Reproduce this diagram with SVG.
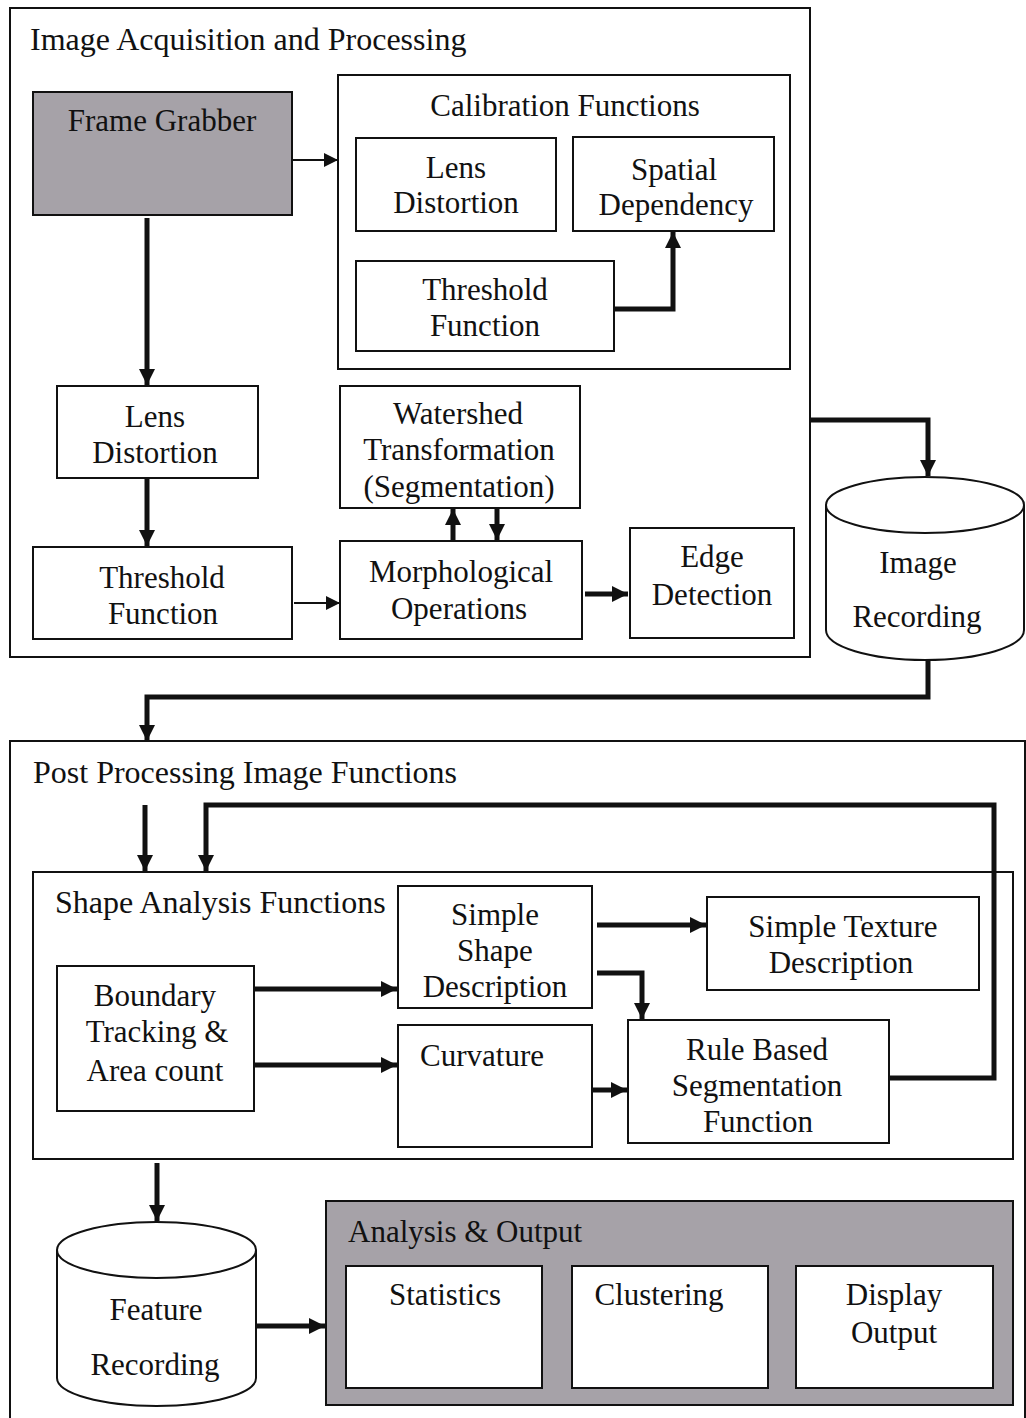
<svg xmlns="http://www.w3.org/2000/svg" width="1026" height="1418" viewBox="0 0 1026 1418">
  <style>
    .frame { fill: none; stroke: #111; stroke-width: 2; }
    .box { fill: #fff; stroke: #111; stroke-width: 2; }
    .grey { fill: #a6a2a8; stroke: #111; stroke-width: 2; }
    .lbl { font-family: "Liberation Serif", "Times New Roman", serif; font-size: 31px; fill: #111; }
    .ttl { font-size: 32px; }
    .mid { text-anchor: middle; }
    .thin { fill: none; stroke: #111; stroke-width: 2; }
    .thick { fill: none; stroke: #111; stroke-width: 5; }
  </style>
  <defs>
    <marker id="headS" markerUnits="userSpaceOnUse" markerWidth="14" markerHeight="14" refX="14" refY="7" orient="auto">
      <path d="M0,0 L14,7 L0,14 Z" fill="#111"/>
    </marker>
    <marker id="headL" markerUnits="userSpaceOnUse" markerWidth="18" markerHeight="18" refX="16" refY="9" orient="auto">
      <path d="M0,1 L16,9 L0,17 Z" fill="#111"/>
    </marker>
  </defs>

  <rect width="1026" height="1418" fill="#fff"/>

  <!-- Section: image acquisition and processing -->
  <g id="acquisition">
    <rect class="frame" x="10" y="8" width="800" height="649"/>
    <text class="lbl ttl" x="30" y="50">Image Acquisition and Processing</text>
  </g>

  <g id="frame-grabber">
    <rect class="grey" x="33" y="92" width="259" height="123"/>
    <text class="lbl mid" x="162" y="131">Frame Grabber</text>
  </g>

  <g id="calibration">
    <rect class="box" x="338" y="75" width="452" height="294"/>
    <text class="lbl mid" x="565" y="116">Calibration Functions</text>
  </g>
  <g id="cal-lens">
    <rect class="box" x="356" y="138" width="200" height="93"/>
    <text class="lbl mid" x="456" y="178">Lens</text>
    <text class="lbl mid" x="456" y="213">Distortion</text>
  </g>
  <g id="cal-spatial">
    <rect class="box" x="573" y="137" width="201" height="94"/>
    <text class="lbl mid" x="674" y="180">Spatial</text>
    <text class="lbl mid" x="676" y="215">Dependency</text>
  </g>
  <g id="cal-threshold">
    <rect class="box" x="356" y="261" width="258" height="90"/>
    <text class="lbl mid" x="485" y="300">Threshold</text>
    <text class="lbl mid" x="485" y="336">Function</text>
  </g>

  <g id="lens-distortion">
    <rect class="box" x="57" y="386" width="201" height="92"/>
    <text class="lbl mid" x="155" y="427">Lens</text>
    <text class="lbl mid" x="155" y="463">Distortion</text>
  </g>
  <g id="threshold">
    <rect class="box" x="33" y="547" width="259" height="92"/>
    <text class="lbl mid" x="162" y="588">Threshold</text>
    <text class="lbl mid" x="163" y="624">Function</text>
  </g>
  <g id="watershed">
    <rect class="box" x="340" y="386" width="240" height="122"/>
    <text class="lbl mid" x="458" y="424">Watershed</text>
    <text class="lbl mid" x="459" y="460">Transformation</text>
    <text class="lbl mid" x="459" y="497">(Segmentation)</text>
  </g>
  <g id="morphological">
    <rect class="box" x="340" y="541" width="242" height="98"/>
    <text class="lbl mid" x="461" y="582">Morphological</text>
    <text class="lbl mid" x="459" y="619">Operations</text>
  </g>
  <g id="edge-detection">
    <rect class="box" x="630" y="528" width="164" height="110"/>
    <text class="lbl mid" x="712" y="567">Edge</text>
    <text class="lbl mid" x="712" y="605">Detection</text>
  </g>

  <g id="image-recording">
    <path class="box" d="M826,505 A99,28 0 0 1 1024,505 L1024,630 A99,30 0 0 1 826,630 Z"/>
    <path class="thin" d="M826,505 A99,28 0 0 0 1024,505"/>
    <text class="lbl mid" x="918" y="573">Image</text>
    <text class="lbl mid" x="917" y="627">Recording</text>
  </g>

  <!-- Section: post processing -->
  <g id="post-processing">
    <rect class="frame" x="10" y="741" width="1015" height="690"/>
    <text class="lbl ttl" x="33" y="783">Post Processing Image Functions</text>
  </g>

  <g id="shape-analysis">
    <rect class="box" x="33" y="872" width="980" height="287"/>
    <text class="lbl ttl" x="55" y="913">Shape Analysis Functions</text>
  </g>
  <g id="simple-shape">
    <rect class="box" x="398" y="886" width="194" height="122"/>
    <text class="lbl mid" x="495" y="925">Simple</text>
    <text class="lbl mid" x="495" y="961">Shape</text>
    <text class="lbl mid" x="495" y="997">Description</text>
  </g>
  <g id="simple-texture">
    <rect class="box" x="707" y="897" width="272" height="93"/>
    <text class="lbl mid" x="843" y="937">Simple Texture</text>
    <text class="lbl mid" x="841" y="973">Description</text>
  </g>
  <g id="boundary-tracking">
    <rect class="box" x="57" y="966" width="197" height="145"/>
    <text class="lbl mid" x="155" y="1006">Boundary</text>
    <text class="lbl mid" x="157" y="1042">Tracking &amp;</text>
    <text class="lbl mid" x="155" y="1081">Area count</text>
  </g>
  <g id="curvature">
    <rect class="box" x="398" y="1025" width="194" height="122"/>
    <text class="lbl mid" x="482" y="1066">Curvature</text>
  </g>
  <g id="rule-based">
    <rect class="box" x="628" y="1020" width="261" height="123"/>
    <text class="lbl mid" x="757" y="1060">Rule Based</text>
    <text class="lbl mid" x="757" y="1096">Segmentation</text>
    <text class="lbl mid" x="758" y="1132">Function</text>
  </g>

  <g id="feature-recording">
    <path class="box" d="M57,1250 A99.5,28 0 0 1 256,1250 L256,1378 A99.5,28 0 0 1 57,1378 Z"/>
    <path class="thin" d="M57,1250 A99.5,28 0 0 0 256,1250"/>
    <text class="lbl mid" x="156" y="1320">Feature</text>
    <text class="lbl mid" x="155" y="1375">Recording</text>
  </g>

  <g id="analysis-output">
    <rect class="grey" x="326" y="1201" width="687" height="204"/>
    <text class="lbl" x="348" y="1242">Analysis &amp; Output</text>
  </g>
  <g id="statistics">
    <rect class="box" x="346" y="1266" width="196" height="122"/>
    <text class="lbl mid" x="445" y="1305">Statistics</text>
  </g>
  <g id="clustering">
    <rect class="box" x="572" y="1266" width="196" height="122"/>
    <text class="lbl mid" x="659" y="1305">Clustering</text>
  </g>
  <g id="display-output">
    <rect class="box" x="796" y="1266" width="197" height="122"/>
    <text class="lbl mid" x="894" y="1305">Display</text>
    <text class="lbl mid" x="894" y="1343">Output</text>
  </g>

  <!-- Connectors -->
  <g id="connectors">
    <path class="thin" d="M292,160 L338,160" marker-end="url(#headS)"/>
    <path class="thick" d="M614,309 L673,309 L673,232" marker-end="url(#headL)"/>
    <path class="thick" d="M147,218 L147,385" marker-end="url(#headL)"/>
    <path class="thick" d="M147,478 L147,546" marker-end="url(#headL)"/>
    <path class="thin" d="M294,603 L340,603" marker-end="url(#headS)"/>
    <path class="thick" d="M453,541 L453,509" marker-end="url(#headL)"/>
    <path class="thick" d="M497,509 L497,540" marker-end="url(#headL)"/>
    <path class="thick" d="M585,594 L628,594" marker-end="url(#headL)"/>
    <path class="thick" d="M810,420 L928,420 L928,476" marker-end="url(#headL)"/>
    <path class="thick" d="M928,660 L928,697 L147,697 L147,741" marker-end="url(#headL)"/>
    <path class="thick" d="M145,805 L145,871" marker-end="url(#headL)"/>
    <path class="thick" d="M890,1078 L994,1078 L994,805 L206,805 L206,871" marker-end="url(#headL)"/>
    <path class="thick" d="M597,925 L706,925" marker-end="url(#headL)"/>
    <path class="thick" d="M597,973 L642,973 L642,1019" marker-end="url(#headL)"/>
    <path class="thick" d="M254,989 L397,989" marker-end="url(#headL)"/>
    <path class="thick" d="M254,1065 L397,1065" marker-end="url(#headL)"/>
    <path class="thick" d="M592,1090 L627,1090" marker-end="url(#headL)"/>
    <path class="thick" d="M157,1163 L157,1221" marker-end="url(#headL)"/>
    <path class="thick" d="M256,1326 L325,1326" marker-end="url(#headL)"/>
  </g>
</svg>
